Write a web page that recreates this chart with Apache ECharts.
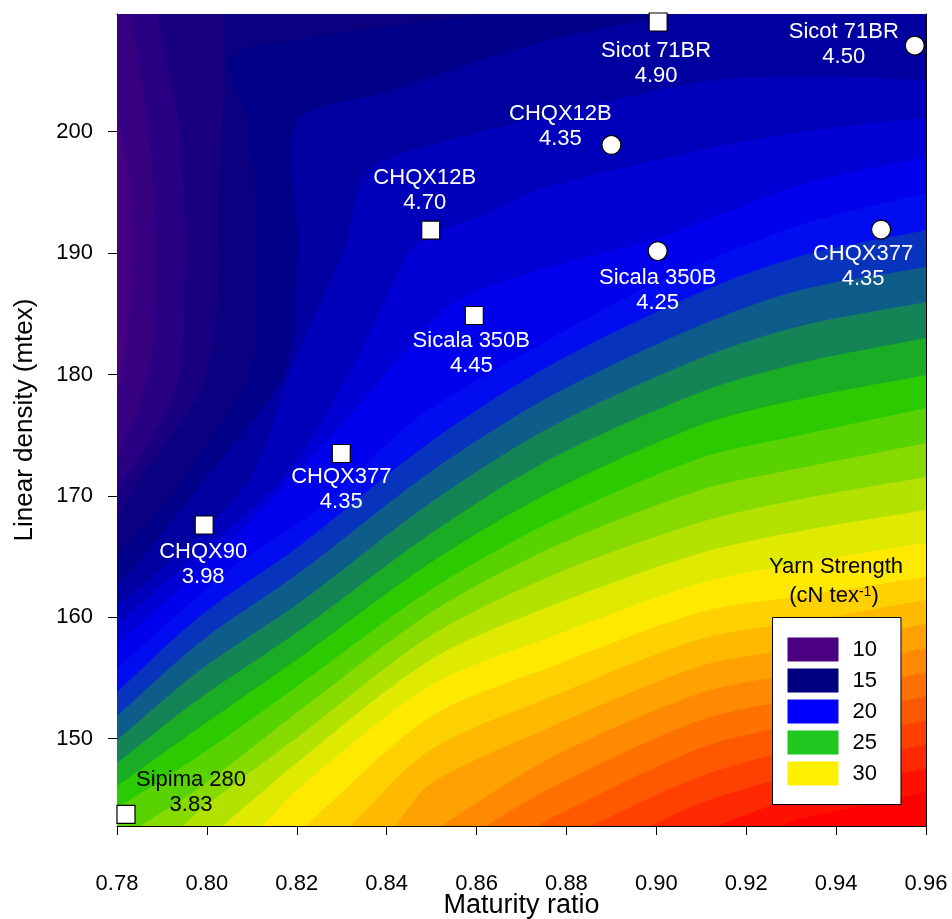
<!DOCTYPE html>
<html>
<head>
<meta charset="utf-8">
<title>Yarn strength contour</title>
<script src="https://cdn.jsdelivr.net/npm/echarts@6/dist/echarts.min.js"></script>
<style>
html, body { margin: 0; padding: 0; background: #fff; }
#chart { width: 952px; height: 919px; }
</style>
</head>
<body>
<div id="chart"></div>
<script>
// axis ranges and ticks
const X_MIN = 0.78, X_MAX = 0.96;
const Y_MIN = 142.8, Y_MAX = 209.7;
const yTicks = [150, 160, 170, 180, 190, 200];

// colour scale of the surface (10 .. 40 in steps of 5)
const scaleColors = ['#4b0082', '#000080', '#0000ff', '#1ec800', '#fff000', '#ff7800', '#ff0000'];
const legendLevels = [10, 15, 20, 25, 30];
const legendColors = ['#4b0082', '#000080', '#0000ff', '#1ec81e', '#fff000'];

// contour levels (cN tex-1) and the contour lines, [maturity, density]
const levels = [10, 11, 12, 13, 14, 15, 16, 17, 18, 19, 20, 21, 22, 23, 24, 25, 26, 27, 28, 29, 30,
                31, 32, 33, 34, 35, 36, 37, 38, 39, 40, 41];
const contourLines = [
  [],
  [[0.78,177.90],[0.7822,182.84],[0.7833,190.59],[0.7825,196.85],[0.78,201.46]],
  [[0.78,173.53],[0.7847,177.07],[0.7878,182.02],[0.7885,190.26],[0.7874,198.49],[0.7851,205.09],[0.7829,209.7]],
  [[0.78,170.48],[0.7874,174.60],[0.7936,179.54],[0.7949,186.14],[0.7949,194.38],[0.7936,200.97],[0.7909,205.91],[0.7889,209.7]],
  [[0.78,168.01],[0.7851,171.47],[0.7985,178.72],[0.8023,186.14],[0.8025,194.38],[0.8034,200.88],[0.8038,206.49],[0.8038,209.7]],
  [[0.78,165.13],[0.7874,168.01],[0.7949,171.47],[0.8096,180.29],[0.8112,190.59],[0.8090,200.88],[0.8052,206.07],
   [0.8246,207.80],[0.8430,208.79],[0.8618,209.7]],
  [[0.78,162.65],[0.7840,164.22],[0.7996,171.47],[0.8174,180.29],[0.8201,190.59],[0.8201,200.88],[0.8395,203.19],
   [0.8736,207.31],[0.8921,208.79],[0.9076,209.7]],
  [[0.78,161.01],[0.7907,164.22],[0.8096,171.47],[0.8185,180.29],[0.8308,190.59],[0.8357,196.76],[0.8542,199.32],
   [0.8736,201.13],[0.9099,204.10],[0.9321,204.59],[0.96,204.26]],
  [[0.78,159.36],[0.7949,164.22],[0.8170,171.47],[0.8319,180.29],[0.8408,186.96],[0.8468,190.83],[0.8618,193.22],
   [0.8736,195.20],[0.9099,198.49],[0.9321,199.98],[0.96,201.21]],
  [[0.78,157.71],[0.7996,164.22],[0.8096,167.84],[0.8319,176.66],[0.8542,185.72],[0.8736,188.53],[0.9003,191.24],
   [0.9321,195.61],[0.96,197.92]],
  [[0.78,155.82],[0.8061,164.22],[0.8246,168.83],[0.8468,176.41],[0.8736,182.35],[0.9003,187.62],[0.9321,192.32],[0.96,194.95]],
  [[0.78,153.84],[0.7985,160.10],[0.8208,165.95],[0.8497,174.44],[0.8765,180.78],[0.9099,186.79],[0.9321,189.76],[0.96,191.90]],
  [[0.78,151.86],[0.7985,157.96],[0.8208,163.72],[0.8497,171.96],[0.8765,178.23],[0.9099,184.08],[0.9321,186.96],[0.96,188.85]],
  [[0.78,149.88],[0.7985,155.65],[0.8208,161.25],[0.8497,169.41],[0.8765,175.67],[0.9099,181.36],[0.9321,184.00],[0.96,185.97]],
  [[0.78,147.99],[0.7985,153.34],[0.8208,158.95],[0.8497,166.86],[0.8765,173.04],[0.9099,178.56],[0.9321,180.95],[0.96,183.00]],
  [[0.78,146.09],[0.7985,150.95],[0.8208,156.72],[0.8497,164.47],[0.8765,170.32],[0.9099,175.84],[0.9321,177.98],[0.96,179.96]],
  [[0.78,144.28],[0.7985,148.65],[0.8208,154.50],[0.8497,162.24],[0.8765,167.84],[0.9099,173.12],[0.9321,175.01],[0.96,177.24]],
  [[0.7851,142.8],[0.7985,146.01],[0.8208,152.35],[0.8497,160.35],[0.8765,165.70],[0.9099,170.48],[0.9321,172.29],[0.96,174.35]],
  [[0.7947,142.8],[0.7985,144.12],[0.8208,150.30],[0.8497,158.45],[0.8765,163.40],[0.9099,167.84],[0.9321,169.74],[0.96,171.55]],
  [[0.8034,142.8],[0.8208,148.24],[0.8497,156.47],[0.8765,160.92],[0.9099,165.29],[0.9321,167.10],[0.96,168.83]],
  [[0.8123,142.8],[0.8208,146.01],[0.8497,154.33],[0.8765,158.37],[0.9099,162.82],[0.9321,164.47],[0.96,166.11]],
  [[0.8219,142.8],[0.8497,151.78],[0.8765,155.90],[0.9099,160.43],[0.9321,161.75],[0.96,163.31]],
  [[0.8319,142.8],[0.8497,149.06],[0.8765,153.43],[0.9099,158.21],[0.9321,159.61],[0.96,161.42]],
  [[0.8419,142.8],[0.8497,146.26],[0.8765,150.95],[0.9099,155.98],[0.9321,157.46],[0.96,159.44]],
  [[0.8520,142.8],[0.8765,148.40],[0.9099,153.76],[0.9321,155.40],[0.96,157.46]],
  [[0.8620,142.8],[0.8765,145.93],[0.9099,151.53],[0.9321,153.35],[0.96,155.49]],
  [[0.8736,142.8],[0.8765,143.46],[0.9099,149.23],[0.9321,151.28],[0.96,153.51]],
  [[0.8854,142.8],[0.9099,146.92],[0.9321,149.23],[0.96,151.53]],
  [[0.8987,142.8],[0.9099,144.69],[0.9321,147.16],[0.96,149.55]],
  [[0.9132,142.8],[0.9321,145.27],[0.96,147.58]],
  [[0.9277,142.8],[0.9321,143.38],[0.96,145.60]],
  [[0.9455,142.8],[0.96,143.95]]
];

// cultivars: squares and circles
const squareNames = ['Sipima 280', 'CHQX90', 'CHQX377', 'Sicala 350B', 'CHQX12B', 'Sicot 71BR'];
const squareMaturity = [0.782, 0.7994, 0.8299, 0.8595, 0.8498, 0.9004];
const squareDensity = [143.75, 167.6, 173.49, 184.86, 191.9, 209.04];
const squareStrength = ['3.83', '3.98', '4.35', '4.45', '4.70', '4.90'];

const circleNames = ['CHQX12B', 'Sicala 350B', 'CHQX377', 'Sicot 71BR'];
const circleMaturity = [0.89, 0.9003, 0.95, 0.9575];
const circleDensity = [198.91, 190.17, 191.94, 207.1];
const circleStrength = ['4.35', '4.25', '4.35', '4.50'];

// label placement (pixels from marker centre)
const squareLabelOffset = [[65, -22], [-1, 39], [0, 36], [-3, 38], [-6, -40], [-2, 41]];
const circleLabelOffset = [[-51, -19], [0, 39], [-18, 37], [-71, -1]];

const FONT = '"Liberation Sans", Arial, sans-serif';

// close a contour line round the high-value side of the plot frame
const cornerAfter = [[X_MAX, Y_MAX], [X_MAX, Y_MIN], [X_MIN, Y_MIN], [X_MIN, Y_MAX]];
function sideOf(p) {
    const e = 1e-6;
    if (Math.abs(p[1] - Y_MAX) < e) return 0;
    if (Math.abs(p[0] - X_MAX) < e) return 1;
    if (Math.abs(p[1] - Y_MIN) < e) return 2;
    return 3;
}
// position along a side, growing in the clockwise direction
function along(side, p) {
    return [p[0], -p[1], -p[0], p[1]][side];
}
function closeRing(line) {
    const first = line[0], last = line[line.length - 1];
    const ring = [first].concat(line, [last]);
    let s = sideOf(last);
    const target = sideOf(first);
    let need = !(s === target && along(s, first) >= along(s, last));
    let guard = 0;
    while (need && guard++ < 5) {
        ring.push(cornerAfter[s], cornerAfter[s]);
        s = (s + 1) % 4;
        need = s !== target;
    }
    return ring;
}

function renderBand(params, api) {
    const i = api.value(1);
    const line = contourLines[i];
    const cs = params.coordSys;
    const fill = api.visual('color');
    if (!line.length) {
        return {type: 'rect', silent: true,
            shape: {x: cs.x, y: cs.y, width: cs.width, height: cs.height}, style: {fill: fill}};
    }
    const pts = closeRing(line).map(p => api.coord(p));
    return {
        type: 'polygon', silent: true,
        shape: {points: pts, smooth: 0.3,
            smoothConstraint: [[cs.x, cs.y], [cs.x + cs.width, cs.y + cs.height]]},
        style: {fill: fill}
    };
}

function markerData(names, xs, ys, vals, offsets) {
    return names.map((n, i) => ({
        name: n,
        value: [xs[i], ys[i], vals[i]],
        label: {offset: offsets[i], color: n === 'Sipima 280' ? '#000' : '#fff'}
    }));
}

const markerLabel = {
    show: true, position: 'inside', fontSize: 22, lineHeight: 25, fontFamily: FONT,
    align: 'center', verticalAlign: 'middle',
    formatter: p => p.name + '\n' + p.value[2]
};

const chart = echarts.init(document.getElementById('chart'));
chart.setOption({
    animation: false,
    textStyle: {fontFamily: FONT},
    grid: {left: 117, top: 14, width: 809, height: 812, outerBoundsMode: 'none', containLabel: false},
    xAxis: [{
        type: 'value', min: X_MIN, max: X_MAX, interval: 0.02, position: 'bottom',
        name: 'Maturity ratio', nameLocation: 'middle', nameGap: 66, nameMoveOverlap: false,
        nameTextStyle: {fontSize: 27, color: '#000', fontFamily: FONT},
        axisLine: {show: true, onZero: false, lineStyle: {color: '#000', width: 1}},
        axisTick: {show: true, length: 9, lineStyle: {color: '#000'}},
        axisLabel: {margin: 47, fontSize: 22, color: '#000', formatter: v => v.toFixed(2)},
        splitLine: {show: false}
    }, {
        type: 'value', min: X_MIN, max: X_MAX, interval: 0.02, position: 'top',
        axisLine: {show: true, onZero: false, lineStyle: {color: '#000', width: 1}},
        axisTick: {show: true, inside: true, length: 6, lineStyle: {color: '#000'}},
        axisLabel: {show: false}, splitLine: {show: false}
    }],
    yAxis: [{
        type: 'value', min: Y_MIN, max: Y_MAX, position: 'left',
        name: 'Linear density (mtex)', nameLocation: 'middle', nameGap: 79, nameMoveOverlap: false,
        nameTextStyle: {fontSize: 26, color: '#000', fontFamily: FONT},
        axisLine: {show: true, onZero: false, lineStyle: {color: '#000', width: 1}},
        axisTick: {show: true, length: 9, customValues: yTicks, lineStyle: {color: '#000'}},
        axisLabel: {margin: 24, fontSize: 22, color: '#000', customValues: yTicks},
        splitLine: {show: false}
    }, {
        type: 'value', min: Y_MIN, max: Y_MAX, position: 'right',
        axisLine: {show: true, onZero: false, lineStyle: {color: '#000', width: 1}},
        axisTick: {show: true, inside: true, length: 7, customValues: yTicks, lineStyle: {color: '#000'}},
        axisLabel: {show: false}, splitLine: {show: false}
    }],
    visualMap: [{
        type: 'continuous', show: false, seriesIndex: 0, dimension: 0,
        min: 10, max: 40, inRange: {color: scaleColors}
    }, {
        type: 'piecewise', seriesIndex: 3, inverse: true, selectedMode: false, align: 'left',
        left: 772, top: 617, orient: 'vertical',
        itemWidth: 51, itemHeight: 24, itemGap: 7, itemSymbol: 'rect', textGap: 14,
        padding: [20, 24, 19, 15],
        backgroundColor: '#fff', borderColor: '#000', borderWidth: 1,
        textStyle: {fontSize: 22, color: '#000', fontFamily: FONT},
        pieces: legendLevels.map((v, i) => ({value: v, label: String(v), color: legendColors[i]}))
    }],
    graphic: [{
        type: 'text', x: 836, y: 567, z: 100,
        style: {text: 'Yarn Strength', align: 'center', verticalAlign: 'middle',
            fontSize: 22, fontFamily: FONT, fill: '#000'}
    }, {
        type: 'text', x: 834, y: 596, z: 100,
        style: {text: '(cN tex{s|-1})', align: 'center', verticalAlign: 'middle',
            fontSize: 22, fontFamily: FONT, fill: '#000',
            rich: {s: {fontSize: 14, fontFamily: FONT, fill: '#000', verticalAlign: 'top'}}}
    }],
    series: [{
        type: 'custom', coordinateSystem: 'cartesian2d', renderItem: renderBand,
        data: levels.map((v, i) => [v + 0.3, i]), z: 1, silent: true
    }, {
        type: 'scatter', symbol: 'rect', symbolSize: 18, z: 5,
        itemStyle: {color: '#fff', borderColor: '#000', borderWidth: 1.2, opacity: 1},
        label: markerLabel,
        data: markerData(squareNames, squareMaturity, squareDensity, squareStrength, squareLabelOffset)
    }, {
        type: 'scatter', symbol: 'circle', symbolSize: 19, z: 5,
        itemStyle: {color: '#fff', borderColor: '#000', borderWidth: 1.2, opacity: 1},
        label: markerLabel,
        data: markerData(circleNames, circleMaturity, circleDensity, circleStrength, circleLabelOffset)
    }, {
        type: 'scatter', data: []
    }]
});
</script>
</body>
</html>
